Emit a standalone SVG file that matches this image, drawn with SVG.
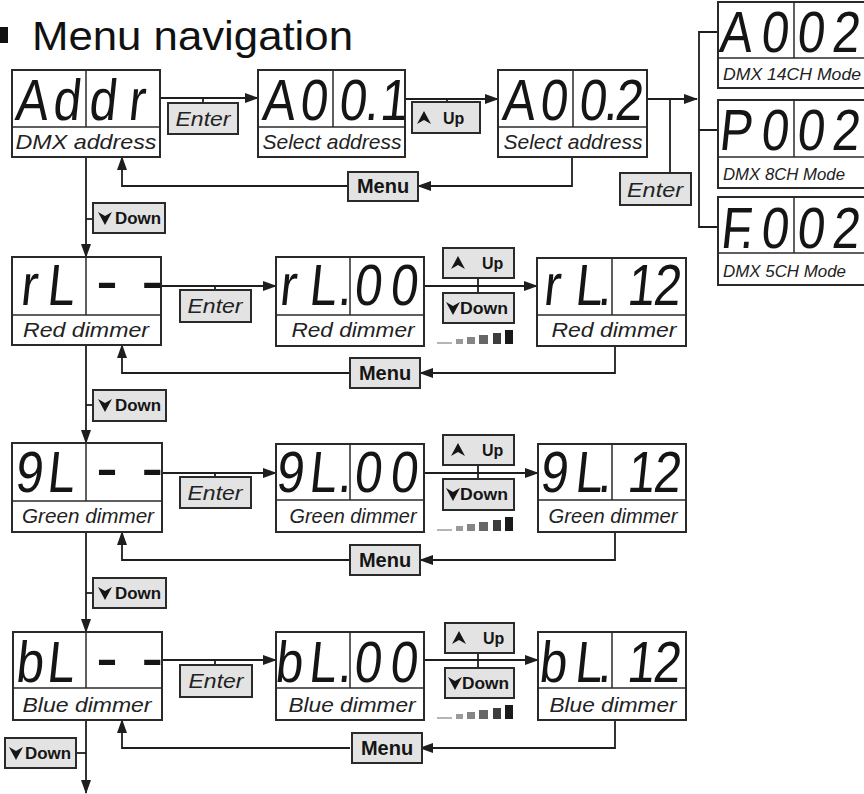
<svg xmlns="http://www.w3.org/2000/svg" width="864" height="794" viewBox="0 0 864 794">
<style>
.box{fill:#fff;stroke:#2a2a2a;stroke-width:2}
.dv{stroke:#2a2a2a;stroke-width:1.5}
.btn{fill:#e3e3e3;stroke:#2a2a2a;stroke-width:2}
.seg{font-family:"Liberation Sans",Arial,sans-serif;font-size:58px;fill:#151515;text-anchor:middle}
.dash{font-family:"Liberation Sans",Arial,sans-serif;font-size:66px;fill:#151515;text-anchor:middle}
.lbl{font-family:"Liberation Sans",Arial,sans-serif;font-style:italic;font-size:21px;fill:#222;text-anchor:middle}
.ml{font-family:"Liberation Sans",Arial,sans-serif;font-style:italic;font-size:17px;fill:#222}
.bt{font-family:"Liberation Sans",Arial,sans-serif;font-weight:bold;font-size:16px;fill:#151515}
.en{font-family:"Liberation Sans",Arial,sans-serif;font-style:italic;font-size:21px;fill:#222;text-anchor:middle}
.mn{font-family:"Liberation Sans",Arial,sans-serif;font-weight:bold;font-size:20px;fill:#151515;text-anchor:middle}
.con{fill:none;stroke:#1e1e1e;stroke-width:1.8}
.arr{marker-end:url(#ah)}
.ico{fill:#151515}
</style>
<defs>
<marker id="ah" markerUnits="userSpaceOnUse" markerWidth="14" markerHeight="10" refX="13" refY="5" orient="auto">
<path d="M0,0 L14,5 L0,10 z" fill="#1e1e1e"/>
</marker>
<g id="ramp">
<rect x="437" y="-2" width="15" height="2" fill="#b5b5b5"/>
<rect x="456" y="-5" width="7" height="5" fill="#9a9a9a"/>
<rect x="467" y="-7" width="8" height="7" fill="#858585"/>
<rect x="479" y="-9" width="9" height="9" fill="#666"/>
<rect x="493" y="-11" width="8" height="11" fill="#3d3d3d"/>
<rect x="505" y="-14" width="8" height="14" fill="#1a1a1a"/>
</g>
<path id="upi" d="M0,-7 L7,6 L0,2 L-7,6 z"/>
<path id="dni" d="M-7,-6 L0,-2 L7,-6 L0,7 z"/>
</defs>
<rect x="0" y="0" width="864" height="794" fill="#fff"/>

<g id="title">
<rect x="-2" y="27" width="10" height="16" fill="#111"/>
<text x="32" y="50" font-family="Liberation Sans, Arial, sans-serif" font-size="40" fill="#111" textLength="321" lengthAdjust="spacingAndGlyphs">Menu navigation</text>
</g>

<g id="connectors">
<path class="con arr" d="M160,98 H258"/>
<path class="con" d="M203,98 V103"/>
<path class="con arr" d="M405,99 H498"/>
<path class="con" d="M447,99 V102"/>
<path class="con arr" d="M647,99 H697"/>
<path class="con" d="M670,99 V173"/>
<path class="con" d="M718,32 H699 V227 H718 M699,130 H718"/>
<path class="con arr" d="M572,157 V186 H418"/>
<path class="con arr" d="M348,186 H122 V157"/>
<path class="con arr" d="M86,157 V257"/>
<path class="con" d="M86,219 H93"/>

<path class="con arr" d="M161,286 H276"/>
<path class="con" d="M215,286 V290"/>
<path class="con arr" d="M424,286 H537"/>
<path class="con" d="M478,278 V293"/>
<path class="con arr" d="M615,346 V373 H420"/>
<path class="con arr" d="M350,373 H122 V345"/>
<path class="con arr" d="M86,345 V443"/>
<path class="con" d="M86,405 H93"/>

<path class="con arr" d="M161,473 H276"/>
<path class="con" d="M215,473 V477"/>
<path class="con arr" d="M424,473 H538"/>
<path class="con" d="M478,465 V479"/>
<path class="con arr" d="M615,532 V560 H420"/>
<path class="con arr" d="M350,560 H122 V532"/>
<path class="con arr" d="M86,532 V632"/>
<path class="con" d="M86,593 H93"/>

<path class="con arr" d="M162,660 H276"/>
<path class="con" d="M215,660 V665"/>
<path class="con arr" d="M424,660 H538"/>
<path class="con" d="M478,653 V668"/>
<path class="con arr" d="M615,720 V748 H420"/>
<path class="con arr" d="M350,748 H122 V720"/>
<path class="con arr" d="M86,720 V793"/>
<path class="con" d="M76,753 H86"/>
</g>

<!-- Row 1 -->
<g id="addr">
<rect class="box" x="12" y="70" width="148" height="87"/>
<line class="dv" x1="12" y1="127" x2="160" y2="127"/>
<line class="dv" x1="86" y1="70" x2="86" y2="127"/>
<text class="seg" transform="translate(10.4 0) skewX(-6) scale(0.85 1)" x="38.8 80 122.4 162.4" y="120">Addr</text>
<text class="lbl" x="86" y="149" textLength="141" lengthAdjust="spacingAndGlyphs">DMX address</text>
</g>
<g id="enter1">
<rect class="btn" x="168" y="103" width="70" height="31"/>
<text class="en" x="203" y="126" textLength="55" lengthAdjust="spacingAndGlyphs">Enter</text>
</g>
<g id="a001">
<rect class="box" x="258" y="70" width="147" height="87"/>
<line class="dv" x1="258" y1="127" x2="405" y2="127"/>
<line class="dv" x1="333" y1="70" x2="333" y2="127"/>
<text class="seg" transform="translate(10.4 0) skewX(-6) scale(0.85 1)" x="329.4 370.6 416.5 438.8 464.7" y="120">A00.1</text>
<text class="lbl" x="332" y="149" textLength="139" lengthAdjust="spacingAndGlyphs">Select address</text>
</g>
<g id="up1">
<rect class="btn" x="412" y="102" width="68" height="31"/>
<use href="#upi" class="ico" x="424" y="118"/>
<text class="bt" x="443" y="124">Up</text>
</g>
<g id="a002">
<rect class="box" x="498" y="70" width="149" height="87"/>
<line class="dv" x1="498" y1="127" x2="647" y2="127"/>
<line class="dv" x1="573" y1="70" x2="573" y2="127"/>
<text class="seg" transform="translate(10.4 0) skewX(-6) scale(0.85 1)" x="611.8 652.9 698.8 720 741.2" y="120">A00.2</text>
<text class="lbl" x="573" y="149" textLength="139" lengthAdjust="spacingAndGlyphs">Select address</text>
</g>
<g id="menu1">
<rect class="btn" x="348" y="172" width="70" height="29"/>
<text class="mn" x="383" y="193">Menu</text>
</g>
<g id="enter2">
<rect class="btn" x="620" y="173" width="71" height="32"/>
<text class="en" x="655" y="197" textLength="56" lengthAdjust="spacingAndGlyphs">Enter</text>
</g>
<g id="mode14">
<rect class="box" x="718" y="2" width="152" height="86"/>
<line class="dv" x1="718" y1="58" x2="870" y2="58"/>
<line class="dv" x1="794" y1="2" x2="794" y2="58"/>
<text class="seg" transform="translate(3.2 0) skewX(-6) scale(0.85 1)" x="867.1 912.9 955.3 996.5" y="52">A002</text>
<text class="ml" x="723" y="80" textLength="138" lengthAdjust="spacingAndGlyphs">DMX 14CH Mode</text>
</g>
<g id="mode8">
<rect class="box" x="718" y="100" width="152" height="88"/>
<line class="dv" x1="718" y1="157" x2="870" y2="157"/>
<line class="dv" x1="794" y1="100" x2="794" y2="157"/>
<text class="seg" transform="translate(13.5 0) skewX(-6) scale(0.85 1)" x="867.1 912.9 955.3 996.5" y="150">P002</text>
<text class="ml" x="723" y="180" textLength="122" lengthAdjust="spacingAndGlyphs">DMX 8CH Mode</text>
</g>
<g id="mode5">
<rect class="box" x="718" y="197" width="152" height="88"/>
<line class="dv" x1="718" y1="253" x2="870" y2="253"/>
<line class="dv" x1="794" y1="197" x2="794" y2="253"/>
<text class="seg" transform="translate(23.8 0) skewX(-6) scale(0.85 1)" x="867.1 880 912.9 955.3 996.5" y="248">F.002</text>
<text class="ml" x="723" y="277" textLength="123" lengthAdjust="spacingAndGlyphs">DMX 5CH Mode</text>
</g>
<g id="down1">
<rect class="btn" x="93" y="203" width="72" height="30"/>
<use href="#dni" class="ico" x="105" y="218"/>
<text class="bt" x="115" y="224" textLength="46" lengthAdjust="spacingAndGlyphs">Down</text>
</g>

<!-- Row 2 -->
<g id="red">
<rect class="box" x="12" y="257" width="149" height="88"/>
<line class="dv" x1="12" y1="315" x2="161" y2="315"/>
<line class="dv" x1="86" y1="257" x2="86" y2="315"/>
<text class="seg" transform="translate(30 0) skewX(-6) scale(0.85 1)" x="35.3 72.9" y="305">rL</text>
<text class="dash" x="107 143" y="303">- -</text>
<text class="lbl" x="86" y="337" textLength="126" lengthAdjust="spacingAndGlyphs">Red dimmer</text>
</g>
<g id="enter3">
<rect class="btn" x="180" y="290" width="71" height="32"/>
<text class="en" x="215" y="313" textLength="55" lengthAdjust="spacingAndGlyphs">Enter</text>
</g>
<g id="red00">
<rect class="box" x="276" y="257" width="148" height="89"/>
<line class="dv" x1="276" y1="315" x2="424" y2="315"/>
<line class="dv" x1="350" y1="257" x2="350" y2="315"/>
<text class="seg" transform="translate(30 0) skewX(-6) scale(0.85 1)" x="340 381.2 407.1 434.1 476.5" y="305">rL.00</text>
<text class="lbl" x="353" y="337" textLength="123" lengthAdjust="spacingAndGlyphs">Red dimmer</text>
</g>
<g id="up2">
<rect class="btn" x="443" y="248" width="71" height="30"/>
<use href="#upi" class="ico" x="458" y="263"/>
<text class="bt" x="482" y="269">Up</text>
</g>
<g id="down2">
<rect class="btn" x="443" y="293" width="71" height="30"/>
<use href="#dni" class="ico" x="453" y="308"/>
<text class="bt" x="460" y="314" textLength="48" lengthAdjust="spacingAndGlyphs">Down</text>
</g>
<use href="#ramp" y="344"/>
<g id="red12">
<rect class="box" x="537" y="258" width="149" height="88"/>
<line class="dv" x1="537" y1="315" x2="686" y2="315"/>
<line class="dv" x1="612" y1="258" x2="612" y2="315"/>
<text class="seg" transform="translate(30 0) skewX(-6) scale(0.85 1)" x="650.6 694.1 712.9 755.3 785.9" y="305">rL.12</text>
<text class="lbl" x="614" y="337" textLength="125" lengthAdjust="spacingAndGlyphs">Red dimmer</text>
</g>
<g id="menu2">
<rect class="btn" x="350" y="358" width="70" height="30"/>
<text class="mn" x="385" y="380">Menu</text>
</g>
<g id="down3">
<rect class="btn" x="93" y="390" width="73" height="31"/>
<use href="#dni" class="ico" x="105" y="405"/>
<text class="bt" x="115" y="411" textLength="46" lengthAdjust="spacingAndGlyphs">Down</text>
</g>

<!-- Row 3 -->
<g id="green">
<rect class="box" x="12" y="443" width="150" height="89"/>
<line class="dv" x1="12" y1="501" x2="162" y2="501"/>
<line class="dv" x1="86" y1="443" x2="86" y2="501"/>
<text class="seg" transform="translate(49.6 0) skewX(-6) scale(0.85 1)" x="35.3 72.9" y="492">9L</text>
<text class="dash" x="107 143" y="490">- -</text>
<text class="lbl" x="88" y="523" textLength="132" lengthAdjust="spacingAndGlyphs">Green dimmer</text>
</g>
<g id="enter4">
<rect class="btn" x="180" y="477" width="71" height="31"/>
<text class="en" x="215" y="500" textLength="55" lengthAdjust="spacingAndGlyphs">Enter</text>
</g>
<g id="green00">
<rect class="box" x="276" y="444" width="148" height="88"/>
<line class="dv" x1="276" y1="500" x2="424" y2="500"/>
<line class="dv" x1="350" y1="444" x2="350" y2="500"/>
<text class="seg" transform="translate(49.6 0) skewX(-6) scale(0.85 1)" x="342.4 381.2 407.1 434.1 476.5" y="492">9L.00</text>
<text class="lbl" x="353" y="523" textLength="127" lengthAdjust="spacingAndGlyphs">Green dimmer</text>
</g>
<g id="up3">
<rect class="btn" x="443" y="435" width="71" height="30"/>
<use href="#upi" class="ico" x="458" y="450"/>
<text class="bt" x="482" y="456">Up</text>
</g>
<g id="down4">
<rect class="btn" x="443" y="479" width="71" height="31"/>
<use href="#dni" class="ico" x="453" y="494"/>
<text class="bt" x="460" y="500" textLength="48" lengthAdjust="spacingAndGlyphs">Down</text>
</g>
<use href="#ramp" y="531"/>
<g id="green12">
<rect class="box" x="538" y="444" width="148" height="88"/>
<line class="dv" x1="538" y1="500" x2="686" y2="500"/>
<line class="dv" x1="612" y1="444" x2="612" y2="500"/>
<text class="seg" transform="translate(49.6 0) skewX(-6) scale(0.85 1)" x="652.9 694.1 712.9 755.3 785.9" y="492">9L.12</text>
<text class="lbl" x="613" y="523" textLength="129" lengthAdjust="spacingAndGlyphs">Green dimmer</text>
</g>
<g id="menu3">
<rect class="btn" x="350" y="545" width="70" height="30"/>
<text class="mn" x="385" y="567">Menu</text>
</g>
<g id="down5">
<rect class="btn" x="93" y="578" width="73" height="30"/>
<use href="#dni" class="ico" x="105" y="593"/>
<text class="bt" x="115" y="599" textLength="46" lengthAdjust="spacingAndGlyphs">Down</text>
</g>

<!-- Row 4 -->
<g id="blue">
<rect class="box" x="13" y="632" width="149" height="88"/>
<line class="dv" x1="13" y1="688" x2="162" y2="688"/>
<line class="dv" x1="86" y1="632" x2="86" y2="688"/>
<text class="seg" transform="translate(69.5 0) skewX(-6) scale(0.85 1)" x="36.5 72.9" y="682">bL</text>
<text class="dash" x="107 143" y="680">- -</text>
<text class="lbl" x="87" y="712" textLength="129" lengthAdjust="spacingAndGlyphs">Blue dimmer</text>
</g>
<g id="enter5">
<rect class="btn" x="180" y="665" width="72" height="32"/>
<text class="en" x="216" y="688" textLength="55" lengthAdjust="spacingAndGlyphs">Enter</text>
</g>
<g id="blue00">
<rect class="box" x="276" y="632" width="148" height="88"/>
<line class="dv" x1="276" y1="688" x2="424" y2="688"/>
<line class="dv" x1="350" y1="632" x2="350" y2="688"/>
<text class="seg" transform="translate(69.5 0) skewX(-6) scale(0.85 1)" x="341.2 381.2 407.1 434.1 476.5" y="682">bL.00</text>
<text class="lbl" x="352" y="712" textLength="127" lengthAdjust="spacingAndGlyphs">Blue dimmer</text>
</g>
<g id="up4">
<rect class="btn" x="445" y="623" width="69" height="30"/>
<use href="#upi" class="ico" x="459" y="638"/>
<text class="bt" x="483" y="644">Up</text>
</g>
<g id="down6">
<rect class="btn" x="445" y="668" width="69" height="30"/>
<use href="#dni" class="ico" x="455" y="683"/>
<text class="bt" x="462" y="689" textLength="47" lengthAdjust="spacingAndGlyphs">Down</text>
</g>
<use href="#ramp" y="719"/>
<g id="blue12">
<rect class="box" x="538" y="632" width="148" height="88"/>
<line class="dv" x1="538" y1="688" x2="686" y2="688"/>
<line class="dv" x1="612" y1="632" x2="612" y2="688"/>
<text class="seg" transform="translate(69.5 0) skewX(-6) scale(0.85 1)" x="651.8 694.1 712.9 755.3 785.9" y="682">bL.12</text>
<text class="lbl" x="613" y="712" textLength="127" lengthAdjust="spacingAndGlyphs">Blue dimmer</text>
</g>
<g id="menu4">
<rect class="btn" x="352" y="733" width="70" height="30"/>
<text class="mn" x="387" y="755">Menu</text>
</g>
<g id="down7">
<rect class="btn" x="5" y="738" width="71" height="30"/>
<use href="#dni" class="ico" x="16" y="753"/>
<text class="bt" x="25" y="759" textLength="46" lengthAdjust="spacingAndGlyphs">Down</text>
</g>
</svg>
